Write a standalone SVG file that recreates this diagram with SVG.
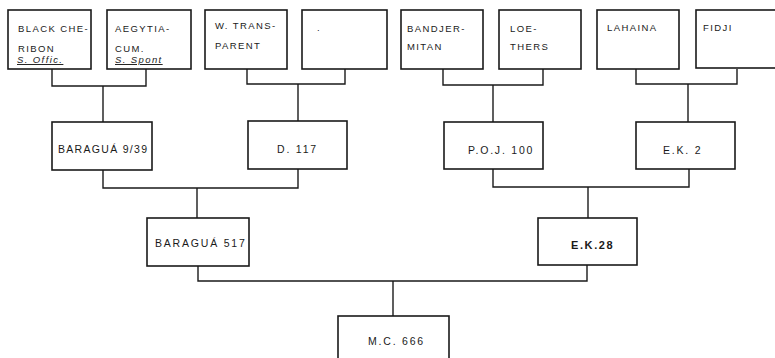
<svg xmlns="http://www.w3.org/2000/svg" width="775" height="358" viewBox="0 0 775 358">
<style>
.box{fill:#fff;stroke:#1a1a1a;stroke-width:1.6}
.c{fill:none;stroke:#1a1a1a;stroke-width:1.4}
text{font-family:"Liberation Sans","DejaVu Sans",sans-serif;font-size:9.5px;fill:#1a1a1a;letter-spacing:1.4px}
.u{font-style:italic;text-decoration:underline}
.m{font-size:10.5px;letter-spacing:1.8px}
.b{font-weight:bold;font-size:11px;letter-spacing:1.6px}
</style>
<g id="connectors">
<polyline class="c" points="52,69 52,86 146,86 146,69"/>
<line class="c" x1="103" y1="86" x2="103" y2="122"/>
<polyline class="c" points="247,69 247,84 345,84 345,69"/>
<line class="c" x1="298" y1="84" x2="298" y2="121"/>
<polyline class="c" points="443,69 443,85 543,85 543,69"/>
<line class="c" x1="493" y1="85" x2="493" y2="122"/>
<polyline class="c" points="636,69 636,84 737,84 737,69"/>
<line class="c" x1="688" y1="84" x2="688" y2="122"/>
<polyline class="c" points="103,170 103,188 298,188 298,169"/>
<line class="c" x1="197" y1="188" x2="197" y2="218"/>
<polyline class="c" points="493,169 493,187 689,187 689,169"/>
<line class="c" x1="588" y1="187" x2="588" y2="218"/>
<polyline class="c" points="198,266 198,281 587,281 587,265"/>
<line class="c" x1="393" y1="281" x2="393" y2="316"/>
</g>
<g id="n1"><rect class="box" x="8" y="10" width="83" height="59"/>
<text x="18" y="32">BLACK CHE-</text><text x="18" y="52">RIBON</text><text class="u" x="17" y="63">S. Offic.</text></g>
<g id="n2"><rect class="box" x="107" y="10" width="84" height="59"/>
<text x="115" y="32">AEGYTIA-</text><text x="115" y="52">CUM.</text><text class="u" x="115" y="63">S. Spont</text></g>
<g id="n3"><rect class="box" x="205" y="10" width="82" height="59"/>
<text x="215" y="29">W. TRANS-</text><text x="215" y="49">PARENT</text></g>
<g id="n4"><rect class="box" x="302" y="10" width="85" height="59"/>
<text x="317" y="31">.</text></g>
<g id="n5"><rect class="box" x="401" y="10" width="82" height="59"/>
<text x="407" y="32">BANDJER-</text><text x="407" y="50">MITAN</text></g>
<g id="n6"><rect class="box" x="499" y="10" width="82" height="59"/>
<text x="510" y="32">LOE-</text><text x="510" y="50">THERS</text></g>
<g id="n7"><rect class="box" x="597" y="10" width="82" height="59"/>
<text x="607" y="31">LAHAINA</text></g>
<g id="n8"><rect class="box" x="696" y="10" width="85" height="58"/>
<text x="703" y="31">FIDJI</text></g>
<g id="n9"><rect class="box" x="52" y="122" width="100" height="48"/>
<text class="m" x="58" y="153" style="letter-spacing:1.3px">BARAGUÁ 9/39</text></g>
<g id="n10"><rect class="box" x="248" y="121" width="99" height="48"/>
<text class="m" x="277" y="153">D. 117</text></g>
<g id="n11"><rect class="box" x="444" y="122" width="99" height="47"/>
<text class="m" x="468" y="154">P.O.J. 100</text></g>
<g id="n12"><rect class="box" x="636" y="122" width="99" height="47"/>
<text class="m" x="663" y="154">E.K.  2</text></g>
<g id="n13"><rect class="box" x="147" y="218" width="102" height="48"/>
<text class="m" x="155" y="247">BARAGUÁ 517</text></g>
<g id="n14"><rect class="box" x="538" y="218" width="99" height="47"/>
<text class="b" x="571" y="249">E.K.28</text></g>
<g id="n15"><rect class="box" x="338" y="316" width="111" height="50"/>
<text class="m" x="368" y="345">M.C. 666</text></g>
</svg>
